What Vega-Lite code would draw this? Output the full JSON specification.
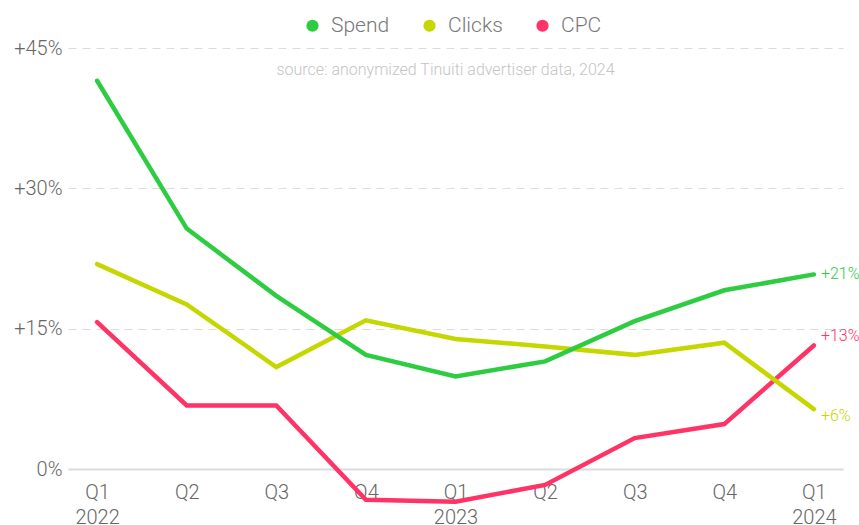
{
  "$schema": "https://vega.github.io/schema/vega-lite/v6.json",
  "width": 775,
  "height": 421,
  "autosize": {"type": "none"},
  "padding": {"left": 68, "top": 48, "right": 16, "bottom": 56},
  "background": "white",
  "config": {
    "view": {"stroke": null},
    "font": "Roboto"
  },
  "title": {
    "text": "source: anonymized Tinuiti advertiser data, 2024",
    "fontSize": 16,
    "fontWeight": 300,
    "color": "#c4c4c4",
    "anchor": "middle",
    "offset": -63,
    "dx": -10
  },
  "data": {
    "values": [
      {"q": "Q1 2022", "series": "CPC", "v": 15.7},
      {"q": "Q2 2022", "series": "CPC", "v": 6.8},
      {"q": "Q3 2022", "series": "CPC", "v": 6.8},
      {"q": "Q4 2022", "series": "CPC", "v": -3.3},
      {"q": "Q1 2023", "series": "CPC", "v": -3.5},
      {"q": "Q2 2023", "series": "CPC", "v": -1.7},
      {"q": "Q3 2023", "series": "CPC", "v": 3.3},
      {"q": "Q4 2023", "series": "CPC", "v": 4.8},
      {"q": "Q1 2024", "series": "CPC", "v": 13.2},
      {"q": "Q1 2022", "series": "Clicks", "v": 21.9},
      {"q": "Q2 2022", "series": "Clicks", "v": 17.6},
      {"q": "Q3 2022", "series": "Clicks", "v": 10.9},
      {"q": "Q4 2022", "series": "Clicks", "v": 15.9},
      {"q": "Q1 2023", "series": "Clicks", "v": 13.9},
      {"q": "Q2 2023", "series": "Clicks", "v": 13.1},
      {"q": "Q3 2023", "series": "Clicks", "v": 12.2},
      {"q": "Q4 2023", "series": "Clicks", "v": 13.5},
      {"q": "Q1 2024", "series": "Clicks", "v": 6.4},
      {"q": "Q1 2022", "series": "Spend", "v": 41.5},
      {"q": "Q2 2022", "series": "Spend", "v": 25.7},
      {"q": "Q3 2022", "series": "Spend", "v": 18.5},
      {"q": "Q4 2022", "series": "Spend", "v": 12.2},
      {"q": "Q1 2023", "series": "Spend", "v": 9.9},
      {"q": "Q2 2023", "series": "Spend", "v": 11.5},
      {"q": "Q3 2023", "series": "Spend", "v": 15.8},
      {"q": "Q4 2023", "series": "Spend", "v": 19.1},
      {"q": "Q1 2024", "series": "Spend", "v": 20.8}
    ]
  },
  "encoding": {
    "x": {
      "field": "q",
      "type": "ordinal",
      "sort": null,
      "scale": {"type": "point", "padding": 0.325},
      "axis": {
        "title": null,
        "domain": false,
        "ticks": false,
        "grid": false,
        "labelAngle": 0,
        "labelFontSize": 20,
        "labelFontWeight": 300,
        "labelColor": "#666666",
        "labelPadding": 13,
        "labelLineHeight": 25,
        "labelExpr": "indexof(datum.value, 'Q1') == 0 ? split(datum.value, ' ') : slice(datum.value, 0, 2)"
      }
    },
    "y": {
      "field": "v",
      "type": "quantitative",
      "scale": {"domain": [0, 45], "nice": false, "zero": false, "clamp": false},
      "axis": {
        "title": null,
        "domain": false,
        "ticks": false,
        "values": [0, 15, 30, 45],
        "labelFontSize": 20,
        "labelFontWeight": 300,
        "labelColor": "#666666",
        "labelPadding": 6,
        "labelExpr": "datum.value == 0 ? '0%' : '+' + datum.value + '%'",
        "gridColor": "#dcdcdc",
        "gridWidth": {"condition": {"test": "datum.value === 0", "value": 2}, "value": 1},
        "gridDash": {"condition": {"test": "datum.value === 0", "value": []}, "value": [8, 6]}
      }
    },
    "color": {
      "field": "series",
      "type": "nominal",
      "scale": {"domain": ["Spend", "Clicks", "CPC"], "range": ["#2ecc40", "#c6d600", "#ff3366"]},
      "legend": {
        "title": null,
        "orient": "none",
        "direction": "horizontal",
        "legendX": 234,
        "legendY": -33,
        "symbolType": "circle",
        "symbolSize": 150,
        "symbolStrokeWidth": 0,
        "symbolOpacity": 1,
        "labelFontSize": 21,
        "labelFontWeight": 300,
        "labelColor": "#777777",
        "labelOffset": 8,
        "columnPadding": 29,
        "padding": 0
      }
    }
  },
  "layer": [
    {
      "mark": {"type": "line", "strokeWidth": 4.5, "strokeCap": "round", "clip": false}
    },
    {
      "transform": [
        {"filter": "datum.q == 'Q1 2024' && datum.series == 'Spend'"},
        {"calculate": "'+' + round(datum.v) + '%'", "as": "lbl"}
      ],
      "mark": {"type": "text", "align": "left", "baseline": "middle", "dx": 7, "dy": 0, "fontSize": 16, "fontWeight": 300},
      "encoding": {"text": {"field": "lbl"}}
    },
    {
      "transform": [
        {"filter": "datum.q == 'Q1 2024' && datum.series == 'CPC'"},
        {"calculate": "'+' + round(datum.v) + '%'", "as": "lbl"}
      ],
      "mark": {"type": "text", "align": "left", "baseline": "middle", "dx": 7, "dy": -10, "fontSize": 16, "fontWeight": 300},
      "encoding": {"text": {"field": "lbl"}}
    },
    {
      "transform": [
        {"filter": "datum.q == 'Q1 2024' && datum.series == 'Clicks'"},
        {"calculate": "'+' + round(datum.v) + '%'", "as": "lbl"}
      ],
      "mark": {"type": "text", "align": "left", "baseline": "middle", "dx": 7, "dy": 7, "fontSize": 16, "fontWeight": 300},
      "encoding": {"text": {"field": "lbl"}}
    }
  ]
}
